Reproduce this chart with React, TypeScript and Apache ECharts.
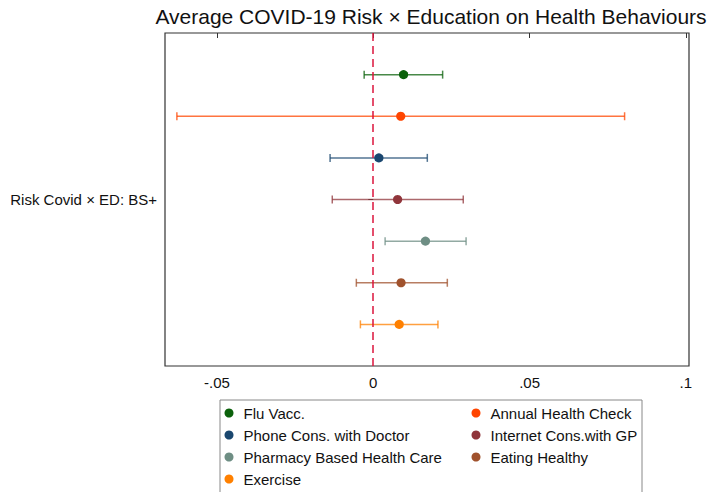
import React, { useEffect, useRef } from "react";
import * as echarts from "echarts";

const titleText = "Average COVID-19 Risk × Education on Health Behaviours";
const yLabel = "Risk Covid × ED: BS+";
const behaviours = [
  "Flu Vacc.",
  "Annual Health Check",
  "Phone Cons. with Doctor",
  "Internet Cons.with GP",
  "Pharmacy Based Health Care",
  "Eating Healthy",
  "Exercise",
];
const estimates = [0.0097, 0.0088, 0.0018, 0.0078, 0.0167, 0.0089, 0.0083];
const ciLow = [-0.0029, -0.0628, -0.0138, -0.0131, 0.0038, -0.0054, -0.0041];
const ciHigh = [0.0222, 0.0804, 0.0173, 0.0288, 0.0297, 0.0237, 0.0207];
const rowPos = [1, 2, 3, 4, 5, 6, 7];
const colors = ["#0b610b", "#ff4500", "#1a476f", "#90353b", "#6e8e84", "#a0522d", "#ff8000"];
const xTicks = [-0.05, 0, 0.05, 0.1];
const legendCol1 = ["Flu Vacc.", "Phone Cons. with Doctor", "Pharmacy Based Health Care", "Exercise"];
const legendCol2 = ["Annual Health Check", "Internet Cons.with GP", "Eating Healthy"];

const FONT = "'Liberation Sans', Arial, sans-serif";

function fmtTick(v: number): string {
  if (Math.abs(v) < 1e-9) return "0";
  const s = String(Math.abs(Number(v.toFixed(4)))).replace(/^0\./, ".");
  return (v < 0 ? "-" : "") + s;
}

export default function App() {
  const ref = useRef<HTMLDivElement>(null);
  useEffect(() => {
    if (!ref.current) return;
    const chart = echarts.init(ref.current, undefined, { renderer: "svg" });
    const series: any[] = behaviours.map((name, i) => ({
      name,
      type: "custom",
      itemStyle: { color: colors[i] },
      encode: { x: [0, 2, 3], y: 1 },
      data: [[estimates[i], rowPos[i], ciLow[i], ciHigh[i]]],
      renderItem: (params: any, api: any) => {
        const y = api.value(1);
        const c = api.coord([api.value(0), y]);
        const lo = api.coord([api.value(2), y]);
        const hi = api.coord([api.value(3), y]);
        const h = 4;
        const ls = { stroke: colors[i], lineWidth: 1.5, opacity: 0.75 };
        return {
          type: "group",
          children: [
            { type: "line", shape: { x1: lo[0], y1: c[1], x2: hi[0], y2: c[1] }, style: ls },
            { type: "line", shape: { x1: lo[0], y1: c[1] - h, x2: lo[0], y2: c[1] + h }, style: ls },
            { type: "line", shape: { x1: hi[0], y1: c[1] - h, x2: hi[0], y2: c[1] + h }, style: ls },
            { type: "circle", shape: { cx: c[0], cy: c[1], r: 4.6 }, style: { fill: colors[i] } },
          ],
        };
      },
      z: 3,
    }));
    series.push({
      name: "zero",
      type: "line",
      data: [],
      markLine: {
        silent: true,
        symbol: ["none", "none"],
        label: { show: false },
        lineStyle: { color: "#dc143c", type: [8, 5], width: 1.5 },
        data: [{ xAxis: 0 }],
      },
      z: 2,
    });
    const legendCommon = {
      orient: "vertical",
      icon: "circle",
      padding: 0,
      itemWidth: 9,
      itemHeight: 9,
      itemGap: 7,
      textStyle: { fontFamily: FONT, fontSize: 15, color: "#111", lineHeight: 15, padding: [0, 0, 0, 5] },
      selectedMode: false,
    };
    chart.setOption({
      animation: false,
      backgroundColor: "#fff",
      title: {
        text: titleText,
        left: 431,
        textAlign: "center",
        top: 6,
        padding: 0,
        textStyle: { fontFamily: FONT, fontSize: 21, fontWeight: "normal", color: "#111" },
      },
      grid: {
        left: 165,
        right: 18,
        top: 33,
        bottom: 126,
        show: true,
        borderColor: "#333",
        borderWidth: 1.2,
        containLabel: false,
      },
      xAxis: {
        type: "value",
        min: -0.0666,
        max: 0.101,
        axisLine: { show: false },
        splitLine: { show: false },
        axisTick: { show: true, customValues: xTicks, length: 5, lineStyle: { color: "#333" } },
        axisLabel: {
          customValues: xTicks,
          formatter: (v: number) => fmtTick(v),
          fontFamily: FONT,
          fontSize: 15,
          color: "#111",
          margin: 9,
        },
      },
      yAxis: {
        type: "value",
        min: 0,
        max: 8,
        inverse: true,
        axisLine: { show: false },
        splitLine: { show: false },
        axisTick: { show: true, customValues: [4], length: 5, lineStyle: { color: "#333" } },
        axisLabel: {
          customValues: [4],
          formatter: () => yLabel,
          fontFamily: FONT,
          fontSize: 15,
          color: "#111",
          margin: 8,
        },
      },
      legend: [
        { ...legendCommon, left: 224.5, top: 405.5, data: legendCol1 },
        { ...legendCommon, left: 471.5, top: 405.5, data: legendCol2 },
      ],
      graphic: [
        {
          type: "rect",
          shape: { x: 220, y: 400, width: 422, height: 110 },
          style: { fill: "none", stroke: "#888", lineWidth: 1 },
          silent: true,
        },
      ],
      series,
    });
    return () => chart.dispose();
  }, []);
  return <div ref={ref} style={{ width: 707, height: 492, position: "absolute", left: 0, top: 0 }} />;
}
